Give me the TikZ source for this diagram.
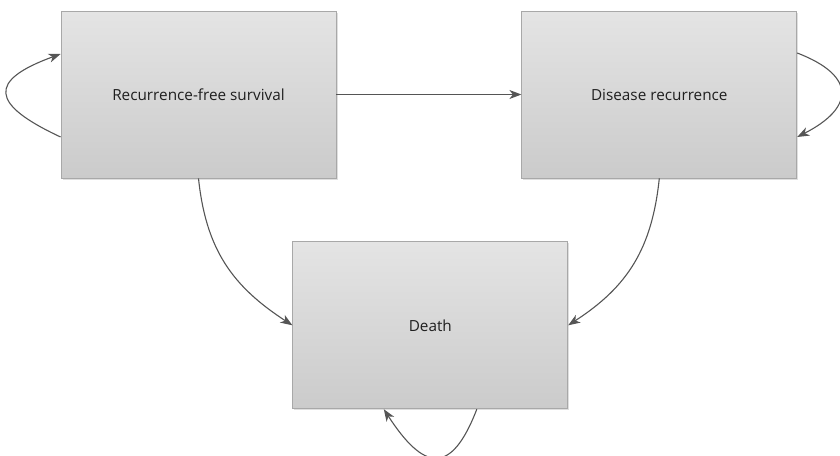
\documentclass[tikz,border=0pt]{standalone}
\usepackage{fontspec}
\setmainfont{Open Sans}
\usepackage{tikz}
\usetikzlibrary{positioning, arrows.meta, shadows}
\definecolor{boxtop}{RGB}{228,228,228}
\definecolor{boxbottom}{RGB}{203,203,203}
\definecolor{boxline}{RGB}{168,168,168}
\definecolor{linkgray}{RGB}{85,85,85}
\tikzset{
every node/.style={font=\fontsize{15.3pt}{18pt}\selectfont, text=black!88},
stage/.style={rectangle, draw=boxline, line width=0.8pt, top color=boxtop, bottom color=boxbottom,
  minimum width=275pt, minimum height=167pt, inner sep=0pt,
  drop shadow={shadow xshift=1.5pt, shadow yshift=-1.5pt, opacity=0.25}}, % sets the look of each state box
link/.style={-{Stealth[length=12pt, width=9pt, inset=3.5pt]}, draw=linkgray, line width=1.1pt} % arrow heads like the original
}

\begin{document}
\begin{tikzpicture}[x=1pt, y=1pt]
      \useasboundingbox (0,0) rectangle (840,-455);
      \clip (0,0) rectangle (840,-455);
      \node[stage] (rfs) at (198.5,-94.5) {Recurrence-free survival};
      \node[stage, right=185pt of rfs] (rec) {Disease recurrence};
      \node[stage, below right=63pt and -44pt of rfs] (death) {Death};

      \draw ([yshift=-42.5pt]rfs.west) edge[link, out=155, in=200, looseness=2.4] ([yshift=40.5pt]rfs.west)
      (rfs) edge[link] (rec)
      ([yshift=41.5pt]rec.east) edge[link, out=-21, in=27, looseness=1.95] ([yshift=-42.5pt]rec.east)
      (rfs.south) edge[link, out=-84, in=147, looseness=1.05] (death.west)
      (rec.south) edge[link, out=-96, in=33, looseness=1.05] (death.east)
      ([xshift=46.5pt]death.south) edge[link, out=249, in=-57, looseness=2] ([xshift=-46.5pt]death.south);
    \end{tikzpicture}
\end{document}
